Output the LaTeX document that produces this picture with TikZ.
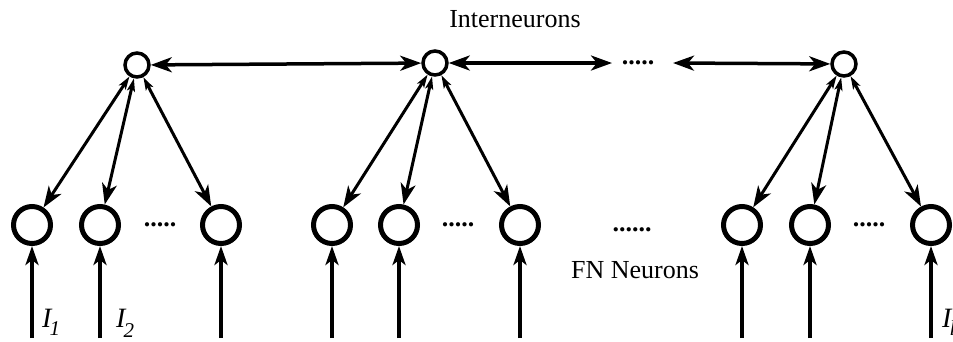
\documentclass[tikz,border=0pt]{standalone}
\usepackage{fontspec}
\setmainfont{Liberation Serif}
\usetikzlibrary{arrows.meta}
\tikzset{
  inter/.style={circle,draw,line width=3.5pt,minimum size=24pt,inner sep=0pt},
  fn/.style={circle,draw,line width=5pt,minimum size=37pt,inner sep=0pt},
  big/.tip={Stealth[length=21pt,width=15pt,inset=6pt]},
  small/.tip={Stealth[length=13pt,width=8pt,inset=3pt]},
  toparrow/.style={line width=3.5pt,{big}-{big}},
  fanarrow/.style={line width=3pt,{small}-{big}},
  inarrow/.style={line width=3.5pt,-{Stealth[length=19pt,width=13pt,inset=5pt]}},
  lbl/.style={font=\fontsize{26}{30}\selectfont,inner sep=0pt},
  dots/.style={font=\fontsize{26}{30}\selectfont\bfseries,inner sep=0pt,anchor=base}
}
\newcommand{\inlab}[2]{{\fontsize{28}{30}\selectfont\itshape I\kern-2pt\raisebox{#2}{\fontsize{21}{22}\selectfont #1}}}
\begin{document}
\begin{tikzpicture}[x=1pt,y=-1pt]
\useasboundingbox (0,0) rectangle (953,341);
% interneurons
\node[inter] (in1) at (137,65) {};
\node[inter] (in2) at (435,63) {};
\node[inter] (in3) at (844,64) {};
% FN neurons
\foreach \n/\x in {a1/32,a2/100,a3/221,b1/332,b2/399,b3/520,c1/742,c2/810,c3/931}{
  \node[fn] (\n) at (\x,225) {};
  \coordinate (s\n) at (\x,338);
  \draw[inarrow] (s\n) -- (\n);
}
% top arrows
\coordinate (tr) at (612,63);
\coordinate (tl) at (673,63);
\draw[toparrow] (in1) -- (in2);
\draw[toparrow] (in2) -- (tr);
\draw[toparrow] (tl) -- (in3);
% fan arrows
\foreach \g/\i in {a/in1,b/in2,c/in3}{
  \foreach \k in {1,2,3}{
    \draw[fanarrow] (\i) -- (\g\k);
  }
}
% dots
\node[dots] (d0) at (638,64) {.....};
\node[dots] (d1) at (160,226) {.....};
\node[dots] (d2) at (458,226) {.....};
\node[dots] (d3) at (869,226) {.....};
\node[dots] (d4) at (632,231) {......};
% labels
\node[lbl,anchor=base] (t1) at (515,27) {Interneurons};
\node[lbl,anchor=base] (t2) at (635,278) {FN Neurons};
\node[anchor=base west,inner sep=0pt] (l1) at (42,327) {\inlab{1}{-8pt}};
\node[anchor=base west,inner sep=0pt] (l2) at (116,327) {\inlab{2}{-10pt}};
\node[anchor=base west,inner sep=0pt] (l3) at (942,327) {\inlab{l}{-8pt}};
\end{tikzpicture}
\end{document}
